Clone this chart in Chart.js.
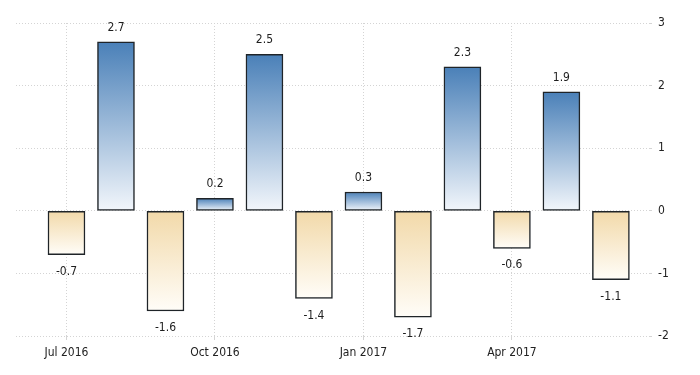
<!DOCTYPE html>
<html>
<head>
<meta charset="utf-8">
<script src="https://cdn.jsdelivr.net/npm/chart.js@4/dist/chart.umd.min.js"></script>
<style>
  html, body { margin: 0; padding: 0; background: #fff; }
  #wrap { width: 700px; height: 375px; }
</style>
</head>
<body>
<div id="wrap"><canvas id="chart" width="700" height="375"></canvas></div>
<script>
const months = ["Jul 2016", "Aug 2016", "Sep 2016", "Oct 2016", "Nov 2016", "Dec 2016",
    "Jan 2017", "Feb 2017", "Mar 2017", "Apr 2017", "May 2017", "Jun 2017"];
const values = [-0.7, 2.7, -1.6, 0.2, 2.5, -1.4, 0.3, -1.7, 2.3, -0.6, 1.9, -1.1];
const labelTicks = [0, 3, 6, 9];
const yTicks = [-2, -1, 0, 1, 2, 3];

const fontName = "'DejaVu Sans Condensed', 'Liberation Sans', sans-serif";

// gradient per bar, from the value end to the zero line
const barFill = (ctx) => {
    const chart = ctx.chart;
    const y = chart.scales.y;
    const v = values[ctx.dataIndex];
    if (!y || v === undefined) return "#6a9bc9";
    const top = y.getPixelForValue(v);
    const base = y.getPixelForValue(0);
    if (!isFinite(top) || !isFinite(base)) return v >= 0 ? "#6a9bc9" : "#f6e6c6";
    const g = chart.ctx.createLinearGradient(0, top, 0, base);
    if (v >= 0) {
        g.addColorStop(0, "#4a80b8");
        g.addColorStop(1, "#f2f6fb");
    } else {
        g.addColorStop(0, "#fffdf8");
        g.addColorStop(1, "#f2d9a9");
    }
    return g;
};

const valueLabels = {
    id: "valueLabels",
    afterDatasetsDraw(chart) {
        const c = chart.ctx;
        const meta = chart.getDatasetMeta(0);
        c.save();
        c.font = "12px " + fontName;
        c.fillStyle = "#1e1e1e";
        c.textAlign = "center";
        c.textBaseline = "middle";
        meta.data.forEach((bar, i) => {
            const v = values[i];
            const ty = v >= 0 ? bar.y - 14 : bar.y + 17;
            c.fillText(v.toFixed(1), bar.x, ty);
        });
        c.restore();
    }
};

let myChart = new Chart(document.getElementById("chart"), {
    type: "bar",
    plugins: [valueLabels],
    data: {
        datasets: [{
            data: values.map((v, i) => ({ x: i, y: v })),
            backgroundColor: barFill,
            borderColor: "#1f2428",
            borderWidth: 1.5,
            borderSkipped: false,
            barThickness: 37,
        }],
    },
    options: {
        responsive: false,
        animation: false,
        layout: { padding: { left: 16, top: 23, right: 0, bottom: 0 } },
        plugins: {
            legend: { display: false },
            tooltip: { enabled: false },
        },
        scales: {
            x: {
                type: "linear",
                offset: false,
                min: -1.02,
                max: 11.79,
                afterBuildTicks: (scale) => {
                    scale.ticks = labelTicks.map(v => ({ value: v }));
                },
                afterFit: (scale) => { scale.height = 39; },
                ticks: {
                    callback: (v) => months[v],
                    color: "#222",
                    font: { family: fontName, size: 12 },
                    padding: 6,
                    maxRotation: 0,
                    autoSkip: false,
                },
                grid: {
                    offset: false,
                    color: "#d4d4d4",
                    tickLength: 4,
                },
                border: { display: false, dash: [1, 2] },
            },
            y: {
                position: "right",
                min: -2,
                max: 3,
                afterBuildTicks: (scale) => {
                    scale.ticks = yTicks.map(v => ({ value: v }));
                },
                afterFit: (scale) => { scale.width = 50; },
                ticks: {
                    color: "#222",
                    font: { family: fontName, size: 12 },
                    padding: 6,
                },
                grid: {
                    color: "#d4d4d4",
                    tickLength: 2,
                },
                border: { display: false, dash: [1, 2] },
            },
        },
    },
});
</script>
</body>
</html>
